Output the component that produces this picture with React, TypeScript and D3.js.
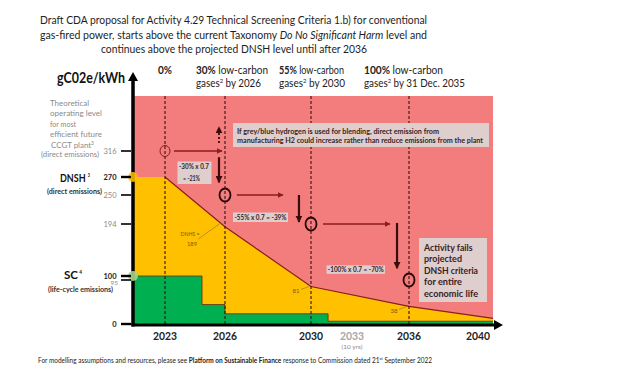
import React from "react";
import * as d3 from "d3";

const W = 627;
const H = 376;
const FONT = "Lato, 'Open Sans', 'Liberation Sans', sans-serif";

// ---------- data ----------
const axisYears = [2023, 2026, 2030, 2033, 2036, 2040];
const milestoneYears = [2023, 2026, 2030, 2036];
const theoreticalLevels = [316, 250, 194, 95];
const dnshYears = [2021.4, 2023, 2026, 2030, 2036, 2041];
const dnshValues = [270, 270, 189, 81, 38, 12];
const scYears = [2021.4, 2024.85, 2026, 2031.25, 2041];
const scValues = [100, 42, 22, 6, 6];
const yTicks = [316, 270, 250, 194, 100, 95, 0];
const keyTicks = [270, 100, 0];
const hArrowFrom = [2023.45, 2026.55, 2030.88];
const hArrowTo = [2025.85, 2028.7, 2035.0];
const vArrowYear = [2025.7, 2029.44, 2035.37];
const vArrowFrom = [305, 250, 196];
const vArrowTo = [264, 198, 114];
const blendHeads = ["30%", "55%", "100%"];
const blendDates = ["by 2026", "by 2030", "by 31 Dec. 2035"];
const pointLabels = ["81", "38"];
const pointLabelYears = [2030, 2036];
const pointLabelValues = [81, 38];
const yTop = 412;
const xStart = 2021.4;
const xEnd = 2041;

const x = d3
  .scaleLinear()
  .domain([2021.4, 2023, 2026, 2030, 2033, 2036, 2040, 2041])
  .range([133, 165, 225, 311, 352, 409, 478, 493]);
const y = d3
  .scaleLinear()
  .domain([0, 95, 100, 194, 250, 270, 316, 412])
  .range([324, 280, 276, 224, 195, 177, 151, 96]);

const PINK = "#F37D7D";
const YELLOW = "#FFC000";
const GREEN = "#00B050";
const DARKRED = "#8B1E1E";
const BOXFILL = "rgb(222,206,206)";
const BOXTEXT = "#3a2222";

function T(props: any) {
  const { x, y, w, size = 10, weight = "normal", fill = "#222", anchor = "start", italic, children } = props;
  return (
    <text
      x={x}
      y={y}
      textLength={w}
      lengthAdjust={w ? "spacingAndGlyphs" : undefined}
      fontSize={size}
      fontWeight={weight}
      fontStyle={italic ? "italic" : "normal"}
      fill={fill}
      textAnchor={anchor}
      fontFamily={FONT}
    >
      {children}
    </text>
  );
}

export default function App() {
  const dnshData = dnshYears.map((yr, i) => ({ yr, v: dnshValues[i] }));
  const scData = scYears.map((yr, i) => ({ yr, v: scValues[i] }));
  const dnshArea = d3
    .area<any>()
    .x((d) => x(d.yr))
    .y0(y(0))
    .y1((d) => y(d.v))(dnshData)!;
  const dnshLine = d3
    .line<any>()
    .x((d) => x(d.yr))
    .y((d) => y(d.v))(dnshData.slice(1))!;
  const scArea = d3
    .area<any>()
    .curve(d3.curveStepAfter)
    .x((d) => x(d.yr))
    .y0(y(0))
    .y1((d) => y(d.v))(scData)!;
  const scLine = d3
    .line<any>()
    .curve(d3.curveStepAfter)
    .x((d) => x(d.yr))
    .y((d) => y(d.v))(scData)!;

  const x0 = x(xStart);
  const x1 = x(xEnd);
  const base = y(0) + 1;

  return (
    <svg
      width={W}
      height={H}
      style={{ position: "absolute", left: 0, top: 0, background: "#fff" }}
      fontFamily={FONT}
    >
      <defs>
        <marker id="ah" viewBox="0 0 10 10" refX="9" refY="5" markerWidth="6" markerHeight="6" markerUnits="userSpaceOnUse" orient="auto">
          <path d="M0,0 L10,5 L0,10 z" fill={DARKRED} />
        </marker>
        <marker id="av" viewBox="0 0 10 10" refX="9" refY="5" markerWidth="7" markerHeight="7" markerUnits="userSpaceOnUse" orient="auto">
          <path d="M0,0 L10,5 L0,10 z" fill="#3a0c0c" />
        </marker>
      </defs>

      {/* Title */}
      <T x={233.5} y={24} w={387} size={12} anchor="middle" fill="#1e1e1e">
        Draft CDA proposal for Activity 4.29 Technical Screening Criteria 1.b) for conventional
      </T>
      <T x={233.5} y={38.5} w={387} size={12} anchor="middle" fill="#1e1e1e">
        gas-fired power, starts above the current Taxonomy <tspan fontStyle="italic">Do No Significant Harm</tspan> level and
      </T>
      <T x={234} y={53} w={266} size={12} anchor="middle" fill="#1e1e1e">
        continues above the projected DNSH level until after 2036
      </T>

      {/* background zones */}
      <rect x={x0} y={y(yTop)} width={x1 - x0} height={base - y(yTop)} fill={PINK} />
      <path d={dnshArea} fill={YELLOW} />
      <path d={dnshLine} fill="none" stroke={DARKRED} strokeWidth={1.2} />
      <path d={scArea} fill={GREEN} />
      <path d={scLine} fill="none" stroke="#6b3a10" strokeWidth={0.9} />

      {/* milestone dashed lines */}
      {milestoneYears.map((yr) => (
        <line key={yr} x1={x(yr)} x2={x(yr)} y1={y(yTop)} y2={base} stroke="#3a0f0f" strokeWidth={1.1} strokeDasharray="3,2" />
      ))}

      {/* column headers */}
      <T x={158} y={74} w={14} size={10.8} weight="bold">0%</T>
      {blendHeads.map((h, i) => {
        const lx = [196, 279, 364][i];
        const w1 = [72, 65, 79][i];
        const w2 = [65, 66, 101][i];
        return (
          <g key={h}>
            <T x={lx} y={74} w={w1} size={10.8}>
              <tspan fontWeight="bold">{h}</tspan> low-carbon
            </T>
            <T x={lx} y={87} w={w2} size={10.8}>
              gases<tspan fontSize={6.5} dy={-4}>2</tspan>
              <tspan dy={4}> {blendDates[i]}</tspan>
            </T>
          </g>
        );
      })}

      {/* circles at theoretical levels */}
      {theoreticalLevels.map((lv, i) => (
        <ellipse
          key={lv}
          cx={x(milestoneYears[i])}
          cy={y(lv)}
          rx={i === 0 ? 5 : 5.5}
          ry={i === 0 ? 5.5 : 6.5}
          fill="none"
          stroke={i === 0 ? DARKRED : "#2a0808"}
          strokeWidth={i === 0 ? 1 : 1.8}
        />
      ))}

      {/* horizontal arrows */}
      {hArrowFrom.map((f, i) => (
        <line key={"h" + i} x1={x(f)} x2={x(hArrowTo[i])} y1={y(theoreticalLevels[i])} y2={y(theoreticalLevels[i])} stroke={DARKRED} strokeWidth={1.3} markerEnd="url(#ah)" />
      ))}
      {/* vertical arrows */}
      {vArrowYear.map((yr, i) => (
        <line key={"v" + i} x1={x(yr)} x2={x(yr)} y1={y(vArrowFrom[i])} y2={y(vArrowTo[i])} stroke="#3a0c0c" strokeWidth={2.2} markerEnd="url(#av)" />
      ))}
      {/* dotted up arrow */}
      <line x1={x(2025.7)} x2={x(2025.7)} y1={y(330)} y2={y(358)} stroke="#3a0c0c" strokeWidth={1.8} strokeDasharray="2,2" markerEnd="url(#av)" />

      {/* annotation boxes */}
      <rect x={177.5} y={161.5} width={34} height={22.5} fill={BOXFILL} />
      <T x={179} y={168.5} w={30} size={6.5} weight="bold" fill={BOXTEXT}>-30% x 0.7</T>
      <T x={183} y={180.5} w={17} size={6.5} weight="bold" fill={BOXTEXT}>= -21%</T>

      <rect x={233} y={123} width={256} height={24} fill={BOXFILL} />
      <T x={237} y={133.5} w={202} size={6.8} weight="bold" fill={BOXTEXT}>
        If grey/blue hydrogen is used for blending, direct emission from
      </T>
      <T x={237} y={142.5} w={246} size={6.8} weight="bold" fill={BOXTEXT}>
        manufacturing H2 could increase rather than reduce emissions from the plant
      </T>

      <rect x={233} y={212.5} width={55} height={9.5} fill={BOXFILL} />
      <T x={234.5} y={219.6} w={52} size={6.5} weight="bold" fill={BOXTEXT}>-55% x 0.7 = -39%</T>

      <rect x={326.5} y={265.3} width={58.5} height={8.5} fill={BOXFILL} />
      <T x={327.8} y={272} w={56} size={6.5} weight="bold" fill={BOXTEXT}>-100% x 0.7 = -70%</T>

      <rect x={419} y={238} width={68} height={64} fill={BOXFILL} />
      {["Activity fails", "projected", "DNSH criteria", "for entire", "economic life"].map((s, i) => (
        <T key={s} x={424} y={250.5 + i * 11.6} w={[48.7, 38, 54, 38, 54][i]} size={9.2} weight="bold" fill={BOXTEXT}>
          {s}
        </T>
      ))}

      {/* small value labels */}
      <line x1={198.3} y1={239} x2={x(2026) - 4} y2={y(189) - 4} stroke="#9a7a40" strokeWidth={0.7} />
      <T x={190} y={236} w={19} size={6} anchor="middle" fill="#7a5a10">DNHS =</T>
      <T x={192} y={245.5} w={10} size={6} anchor="middle" fill="#7a5a10">189</T>
      {pointLabels.map((s, i) => (
        <g key={s}>
          <line x1={x(pointLabelYears[i]) - 10} y1={y(pointLabelValues[i]) + 3} x2={x(pointLabelYears[i]) - 2} y2={y(pointLabelValues[i])} stroke="#9a7a40" strokeWidth={0.7} />
          <T x={x(pointLabelYears[i]) - 15} y={y(pointLabelValues[i]) + 7} w={7} size={6} anchor="middle" fill="#7a5a10">{s}</T>
        </g>
      ))}

      {/* axes */}
      <line x1={x0} x2={x0} y1={base + 1.5} y2={80} stroke="#000" strokeWidth={3.5} />
      <path d={`M${x0 - 5},81 L${x0},72 L${x0 + 5},81 z`} fill="#000" />
      <line x1={x0 - 1.5} x2={x1 + 2} y1={base} y2={base} stroke="#000" strokeWidth={3} />
      <path d={`M${x1 + 1},${base - 5} L${x1 + 10},${base} L${x1 + 1},${base + 5} z`} fill="#000" />

      {/* axis markers */}
      <circle cx={x0} cy={y(270)} r={5} fill={YELLOW} opacity={0.85} />
      <circle cx={x0} cy={y(100)} r={5} fill="#a9d18e" opacity={0.9} />

      {/* y ticks */}
      {yTicks.map((t) => {
        const key = keyTicks.includes(t);
        return (
          <g key={t}>
            <line x1={121} x2={131} y1={y(t)} y2={y(t)} stroke="#000" strokeWidth={key ? 2.4 : 1.6} />
            <T x={t === 95 ? 118 : 116.5} y={y(t) + (t === 95 ? 4.5 : 3)} size={t === 95 ? 6.5 : 7.5} anchor="end" weight={key ? "bold" : "normal"} fill={key ? "#222" : "#8a8a8a"}>
              {t}
            </T>
          </g>
        );
      })}

      {/* y labels */}
      <T x={57} y={83} w={68} size={15} weight="bold" fill="#111">gC02e/kWh</T>
      {["Theoretical", "operating level", "for most", "efficient future"].map((s, i) => (
        <T key={s} x={50} y={106 + i * 10.4} w={[39, 52, 26, 52][i]} size={8} fill="#8a8a8a">{s}</T>
      ))}
      <T x={51} y={147.5} w={43} size={8} fill="#8a8a8a">
        CCGT plant<tspan fontSize={5} dy={-3}>3</tspan>
      </T>
      <T x={41} y={156.5} w={58} size={7.5} fill="#8a8a8a">(direct emissions)</T>

      <T x={60} y={182} w={30} size={12} weight="bold" fill="#111">
        DNSH <tspan fontSize={5} dy={-5}>3</tspan>
      </T>
      <T x={47} y={193.8} w={55} size={7} weight="bold" fill="#333">(direct emissions)</T>

      <T x={64} y={279} w={18} size={12} weight="bold" fill="#111">
        SC<tspan fontSize={5} dy={-5}> 4</tspan>
      </T>
      <T x={48} y={291.8} w={65} size={7} weight="bold" fill="#333">(life-cycle emissions)</T>

      {/* x labels */}
      {axisYears.map((yr) => (
        <T key={yr} x={x(yr)} y={340} w={24} size={12} weight="bold" anchor="middle" fill={yr === 2033 ? "#a6a6a6" : "#222"}>
          {yr}
        </T>
      ))}
      <T x={x(2033)} y={348.5} w={21} size={6} anchor="middle" fill="#8a8a8a">(10 yrs)</T>

      {/* footnote */}
      <T x={38} y={362.5} w={394} size={7} fill="#222">
        For modelling assumptions and resources, please see <tspan fontWeight="bold">Platform on Sustainable Finance</tspan> response to Commission dated 21
        <tspan fontSize={4.5} dy={-2.5}>st</tspan>
        <tspan dy={2.5}> September 2022</tspan>
      </T>
    </svg>
  );
}
